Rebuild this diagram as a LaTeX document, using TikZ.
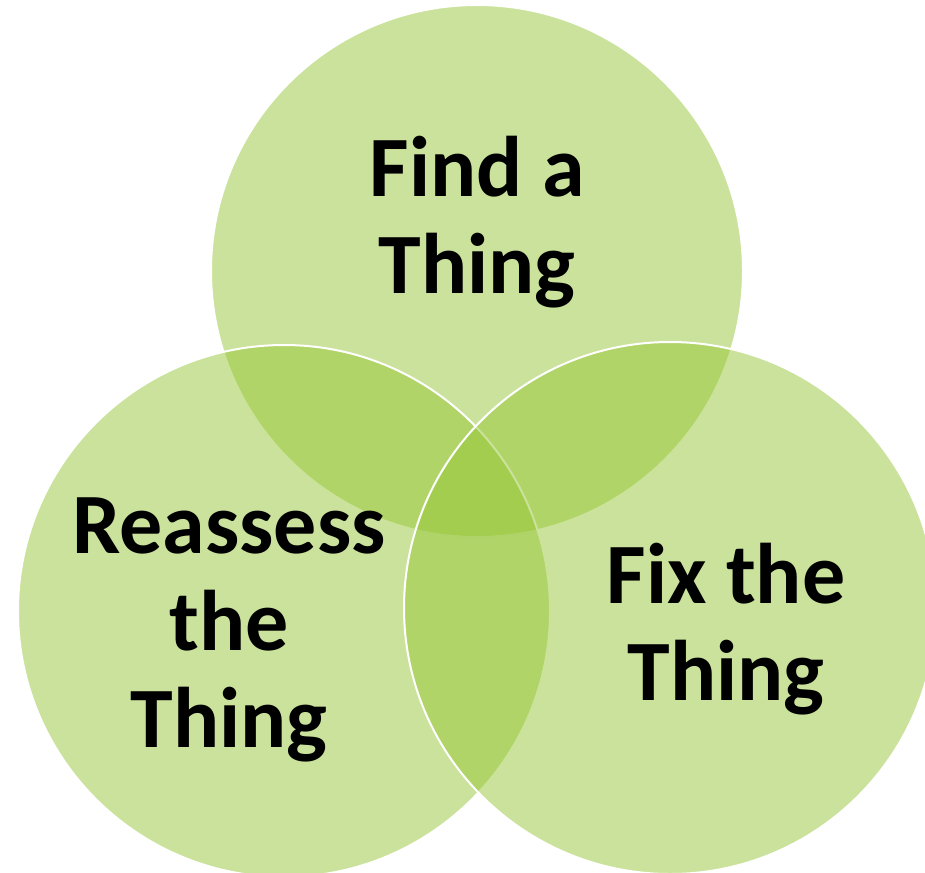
\documentclass[tikz,border=0pt]{standalone}
\usepackage{fontspec}
\setmainfont{Carlito}
\usepackage{xcolor}
\usepackage{tikz}
\definecolor{venngreen}{RGB}{150,198,55}

\begin{document}
\begin{tikzpicture}[
      x=1pt, y=-1pt,
      set/.style={
        circle, draw=white, line width=2pt, fill=venngreen,
        fill opacity=0.5, minimum size=532pt, inner sep=0pt},
      label/.style={
        align=center, inner sep=0pt, anchor=base, text=black,
        font=\fontsize{86}{97}\selectfont\bfseries}
    ]
    \useasboundingbox (0,0) rectangle (925,872);

    % --- Sets ---
    \node[set] (find)     at (477,271) {};
    \node[set] (reassess) at (284,611) {};
    \node[set] (fix)      at (670,608) {};

    % --- Labels ---
    \node[label] (findtxt)     at (477,293) {Find a\\Thing};
    \node[label] (reassesstxt) at (229,747) {Reassess\\the\\Thing};
    \node[label] (fixtxt)      at (726,700) {Fix the\\Thing};
  \end{tikzpicture}
\end{document}
